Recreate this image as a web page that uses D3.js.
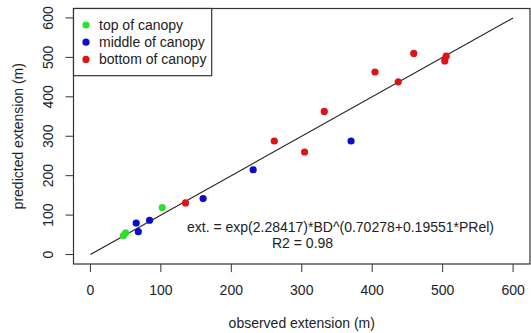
<!DOCTYPE html>
<html><head><meta charset="utf-8">
<script src="https://cdn.jsdelivr.net/npm/d3@7"></script>
<style>body{margin:0;background:#fff}svg{display:block;font-family:"Liberation Sans",Arial,sans-serif}</style>
</head><body><svg id="c" width="531" height="333"></svg>
<script>
const groups = ["top of canopy","middle of canopy","bottom of canopy"];
const groupColors = ["#2ee02e","#0c0cc8","#dc1414"];
const topObs = [47, 50, 102];
const topPred = [48, 55, 119];
const midObs = [65, 68, 84, 160, 231, 370];
const midPred = [80, 58, 87, 142, 215, 288];
const botObs = [135, 261, 304, 332, 404, 437, 459, 503, 505];
const botPred = [131, 288, 260, 363, 463, 438, 510, 491, 503];
const xTicks = [0,100,200,300,400,500,600];
const yTicks = [0,100,200,300,400,500,600];
const lineX = [0,600];
const eqLines = ["ext. = exp(2.28417)*BD^(0.70278+0.19551*PRel)","R2 = 0.98"];

const svg = d3.select("#c");
const L=73.5, R=530, T=8.5, B=264;
const x = d3.scaleLinear().domain([-24,624]).range([L,R]);
const y = d3.scaleLinear().domain([-24,624]).range([B,T]);
const col="#333";
const fs = 14;

svg.append("line").attr("x1",x(lineX[0])).attr("y1",y(lineX[0])).attr("x2",x(lineX[1])).attr("y2",y(lineX[1]))
  .attr("stroke","#222").attr("stroke-width",1.1);

const series = [[topObs,topPred],[midObs,midPred],[botObs,botPred]];
series.forEach((s,gi)=>{
  svg.append("g").selectAll("circle").data(s[0].map((v,i)=>[v,s[1][i]])).join("circle")
    .attr("cx",d=>x(d[0])).attr("cy",d=>y(d[1])).attr("r",3.6).attr("fill",groupColors[gi]);
});

svg.append("rect").attr("x",L).attr("y",T).attr("width",R-L).attr("height",B-T)
  .attr("fill","none").attr("stroke",col).attr("stroke-width",1.2);

const gx = svg.append("g");
xTicks.forEach(t=>{
  gx.append("line").attr("x1",x(t)).attr("x2",x(t)).attr("y1",B).attr("y2",B+8).attr("stroke",col);
  gx.append("text").attr("x",x(t)).attr("y",290).attr("dominant-baseline","central").attr("text-anchor","middle")
    .attr("font-size",fs).attr("fill","#222").text(t);
});
const gy = svg.append("g");
yTicks.forEach(t=>{
  gy.append("line").attr("x1",L-8).attr("x2",L).attr("y1",y(t)).attr("y2",y(t)).attr("stroke",col);
  gy.append("text").attr("transform",`translate(48,${y(t)}) rotate(-90)`).attr("dominant-baseline","central")
    .attr("text-anchor","middle").attr("font-size",fs).attr("fill","#222").text(t);
});

svg.append("text").attr("x",(L+R)/2).attr("y",323).attr("dominant-baseline","central").attr("text-anchor","middle")
  .attr("font-size",fs).attr("fill","#222").text("observed extension (m)");
svg.append("text").attr("transform",`translate(17.5,${(T+B)/2}) rotate(-90)`).attr("dominant-baseline","central")
  .attr("text-anchor","middle").attr("font-size",fs).attr("fill","#222").text("predicted extension (m)");

svg.append("text").attr("x",187).attr("y",227).attr("dominant-baseline","central").attr("font-size",fs).attr("fill","#222").text(eqLines[0]);
svg.append("text").attr("x",272).attr("y",243).attr("dominant-baseline","central").attr("font-size",fs).attr("fill","#222").text(eqLines[1]);

const lg = svg.append("g");
lg.append("rect").attr("x",L).attr("y",T).attr("width",211.7-L).attr("height",75.7-T)
  .attr("fill","#fff").attr("stroke",col).attr("stroke-width",1.2);
groups.forEach((g,i)=>{
  const yy = 25 + i*17.2;
  lg.append("circle").attr("cx",86).attr("cy",yy).attr("r",3.6).attr("fill",groupColors[i]);
  lg.append("text").attr("x",99).attr("y",yy).attr("dominant-baseline","central").attr("font-size",fs).attr("fill","#222").text(g);
});
</script></body></html>
